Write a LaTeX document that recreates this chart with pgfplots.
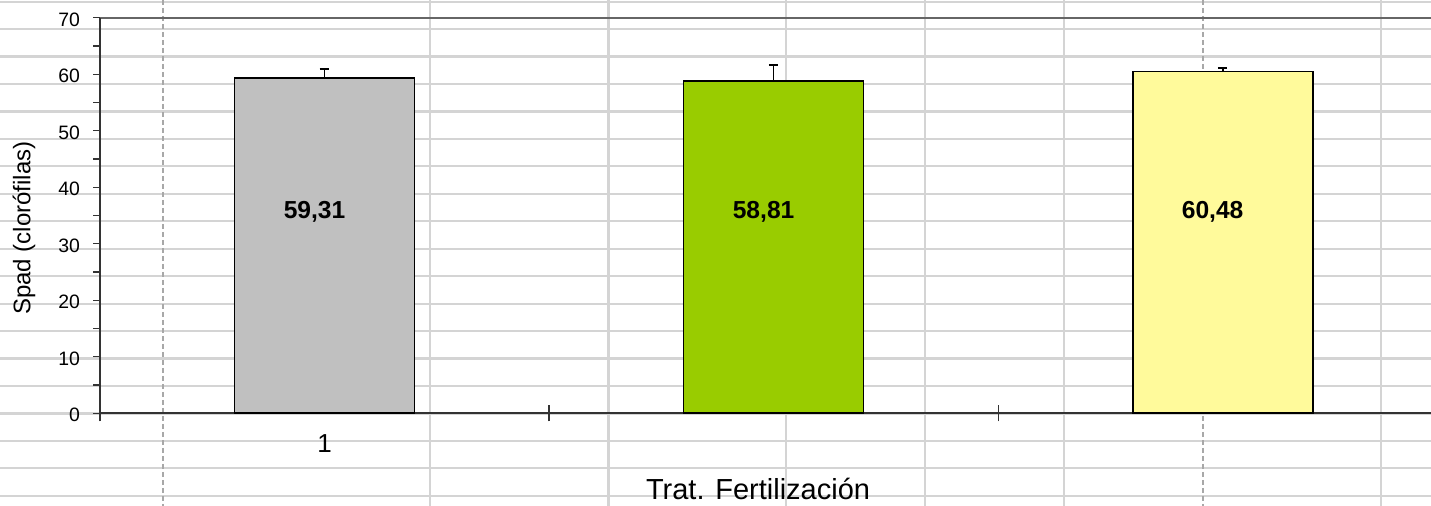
\documentclass[border=0pt]{standalone}
\usepackage{fontspec}
\setmainfont{Liberation Sans}
\usepackage{pgfplots}
\pgfplotsset{compat=1.18}
\definecolor{sgrid}{HTML}{D4D4D4}
\definecolor{sdash}{HTML}{A8A8A8}
\definecolor{barg}{HTML}{C0C0C0}
\definecolor{bargreen}{HTML}{99CC00}
\definecolor{bary}{HTML}{FFFA9B}
\begin{document}
\begin{tikzpicture}
\path[use as bounding box] (0,0) rectangle (715.5pt,253pt);
\begin{scope}[x=0.5pt,y=-0.5pt,yshift=253pt]
  \foreach \k in {0,...,18} {\draw[sgrid, line width=1.1pt] (0,{1.7+27.45*\k}) -- (1431,{1.7+27.45*\k});}
  \foreach \x in {430,608.5,786,925,1064,1381} {\draw[sgrid, line width=1.1pt] (\x,0) -- (\x,506);}
  \foreach \x in {163,1203} {\draw[sdash, line width=0.75pt, dash pattern=on 2.5pt off 1.5pt] (\x,0) -- (\x,506);}
  \draw[black!60, line width=1pt] (100,17.7) -- (1431,17.7);
\end{scope}
\begin{axis}[
  at={(50pt,46.35pt)}, anchor=south west,
  scale only axis, width=665.5pt, height=197.8pt,
  xmin=0, xmax=2.964, ymin=0, ymax=70,
  clip=false,
  axis x line*=bottom, axis y line*=left,
  axis line style={black!80, line width=1pt},
  ytick={0,10,...,70}, minor y tick num=1,
  tick align=outside, major tick length=3.5pt, minor tick length=3.5pt,
  tick style={black!80, line width=0.6pt},
  xtick=\empty,
  extra x ticks={0,1,2}, extra x tick labels={},
  extra x tick style={tick align=center, major tick length=8pt},
  /pgf/number format/assume math mode=true,
  tick label style={font=\fontsize{9.7}{11}\selectfont},
  yticklabel style={xshift=-3pt, yshift=-1pt},
  ylabel={Spad (clorófilas)},
  ylabel style={at={(axis description cs:-0.0571,0.468)}, anchor=center, font=\fontsize{12}{14}\selectfont},
  xlabel={Trat. Fertilización},
  xlabel style={at={(axis description cs:0.4944,-0.219)}, anchor=base, font=\fontsize{14.5}{16}\selectfont},
]
\addplot[ybar, bar width=90pt, fill=barg, draw=black, line width=0.9pt,
  error bars/.cd, y dir=plus, y explicit,
  error bar style={black, line width=0.9pt},
  error mark options={black, rotate=90, mark size=2.4pt, line width=0.9pt}]
  coordinates {(0.5,59.31) +- (0,1.6)};
\addplot[ybar, bar width=90pt, fill=bargreen, draw=black, line width=0.9pt,
  error bars/.cd, y dir=plus, y explicit,
  error bar style={black, line width=0.9pt},
  error mark options={black, rotate=90, mark size=2.4pt, line width=0.9pt}]
  coordinates {(1.5,58.81) +- (0,2.75)};
\addplot[ybar, bar width=90pt, fill=bary, draw=black, line width=0.9pt,
  error bars/.cd, y dir=plus, y explicit,
  error bar style={black, line width=0.9pt},
  error mark options={black, rotate=90, mark size=2.4pt, line width=0.9pt}]
  coordinates {(2.5,60.48) +- (0,0.6)};
\node[font=\bfseries\fontsize{12.3}{14}\selectfont, xshift=-5pt] at (axis cs:0.5,35.6) {59,31};
\node[font=\bfseries\fontsize{12.3}{14}\selectfont, xshift=-5pt] at (axis cs:1.5,35.6) {58,81};
\node[font=\bfseries\fontsize{12.3}{14}\selectfont, xshift=-5pt] at (axis cs:2.5,35.6) {60,48};
\node[font=\fontsize{13}{15}\selectfont, anchor=base] at (axis cs:0.5,-6.9) {1};
\end{axis}
\end{tikzpicture}
\end{document}
